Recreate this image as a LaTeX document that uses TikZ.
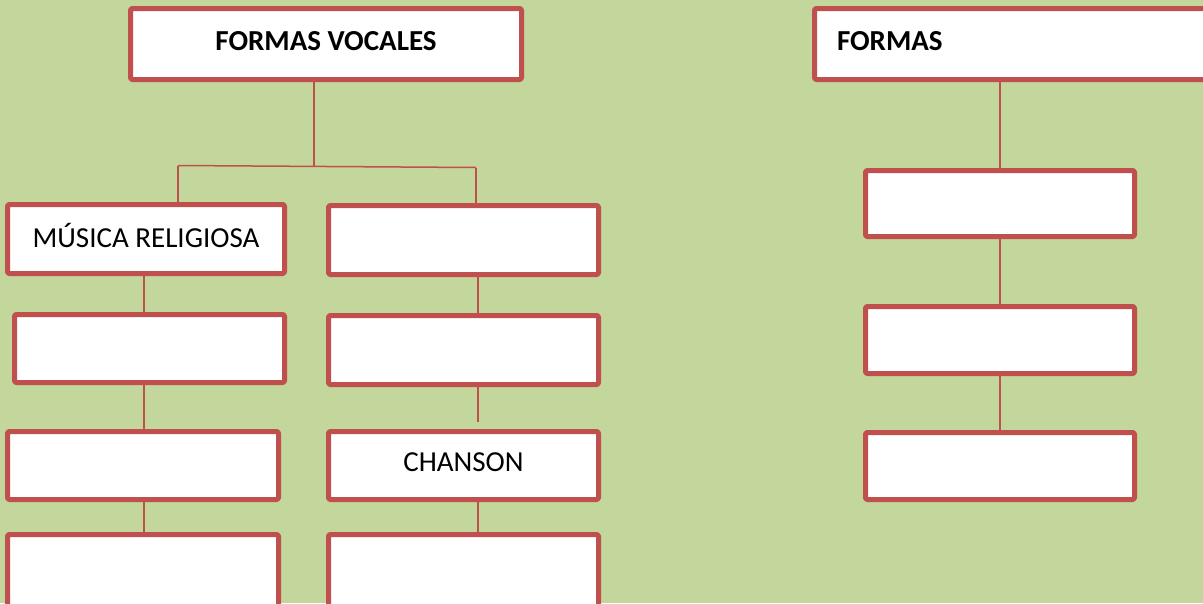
\documentclass[tikz,border=0pt]{standalone}
\usepackage{fontspec}
\setmainfont{Carlito}
\definecolor{boxred}{HTML}{C0504D}
\definecolor{bggreen}{HTML}{C3D69B}

\begin{document}
\begin{tikzpicture}[
    x=1pt, y=-1pt,
    line join=round,
    font=\fontsize{29}{34}\selectfont,
    box/.style={
        draw=boxred,
        line width=5pt,
        fill=white,
        rectangle,
        rounded corners=1.5pt,
        minimum width=270pt,
        minimum height=68pt,
        inner sep=0pt,
        text depth=7pt
    },
    link/.style={draw=boxred, line width=1.5pt}
]

% =========================
% Background
% =========================
\fill[bggreen] (0,0) rectangle (1203,603);
\useasboundingbox (0,0) rectangle (1203,603);

% =========================
% Nodes
% =========================
\node[box, minimum width=391pt, minimum height=71pt] (voc) at (326,44) {\bfseries FORMAS VOCALES};

\node[box, minimum width=277pt, minimum height=69pt] (rel) at (146,239) {MÚSICA RELIGIOSA};
\node[box] (l2) at (149.5,348.5) {};
\node[box, minimum width=271pt] (l3) at (143,465.5) {};
\node[box, minimum width=271pt, minimum height=73pt] (l4) at (143,571) {};

\node[box, minimum height=69pt] (r1) at (463.5,240) {};
\node[box, minimum height=69pt] (r2) at (463.5,350) {};
\node[box] (chanson) at (463.5,465.5) {CHANSON};
\node[box, minimum height=73pt] (r4) at (463.5,571) {};

\node[box, minimum width=395.5pt, minimum height=71pt, inner xsep=22.5pt,
      text width=350.5pt, align=left] (formas) at (1012.25,44) {\bfseries FORMAS};
\node[box, minimum width=269pt, minimum height=66pt] (f1) at (1000,203.5) {};
\node[box, minimum width=269pt, minimum height=67pt] (f2) at (1000,340) {};
\node[box, minimum width=269pt, minimum height=67pt] (f3) at (1000,466) {};

% =========================
% Branch from the top box
% =========================
\coordinate (hub) at (314,166);
\coordinate (busL) at (178,165.5);
\coordinate (busR) at (476,167.5);

\draw[link] (hub |- voc.south) -- (hub);
\draw[link] (busL) -- (busR);
\draw[link] (busL) -- (busL |- rel.north);
\draw[link] (busR) -- (busR |- r1.north);

% =========================
% Columns
% =========================
\coordinate (colA) at (144,0);
\coordinate (colB) at (478,0);
\coordinate (colC) at (1000,0);

\draw[link] (colA |- rel.south) -- (colA |- l2.north);
\draw[link] (colA |- l2.south) -- (colA |- l3.north);
\draw[link] (colA |- l3.south) -- (colA |- l4.north);

\draw[link] (colB |- r1.south) -- (colB |- r2.north);
\draw[link, shorten >=7pt] (colB |- r2.south) -- (colB |- chanson.north);
\draw[link] (colB |- chanson.south) -- (colB |- r4.north);

\draw[link] (colC |- formas.south) -- (f1.north);
\draw[link] (f1) -- (f2);
\draw[link] (f2) -- (f3);

\end{tikzpicture}
\end{document}
